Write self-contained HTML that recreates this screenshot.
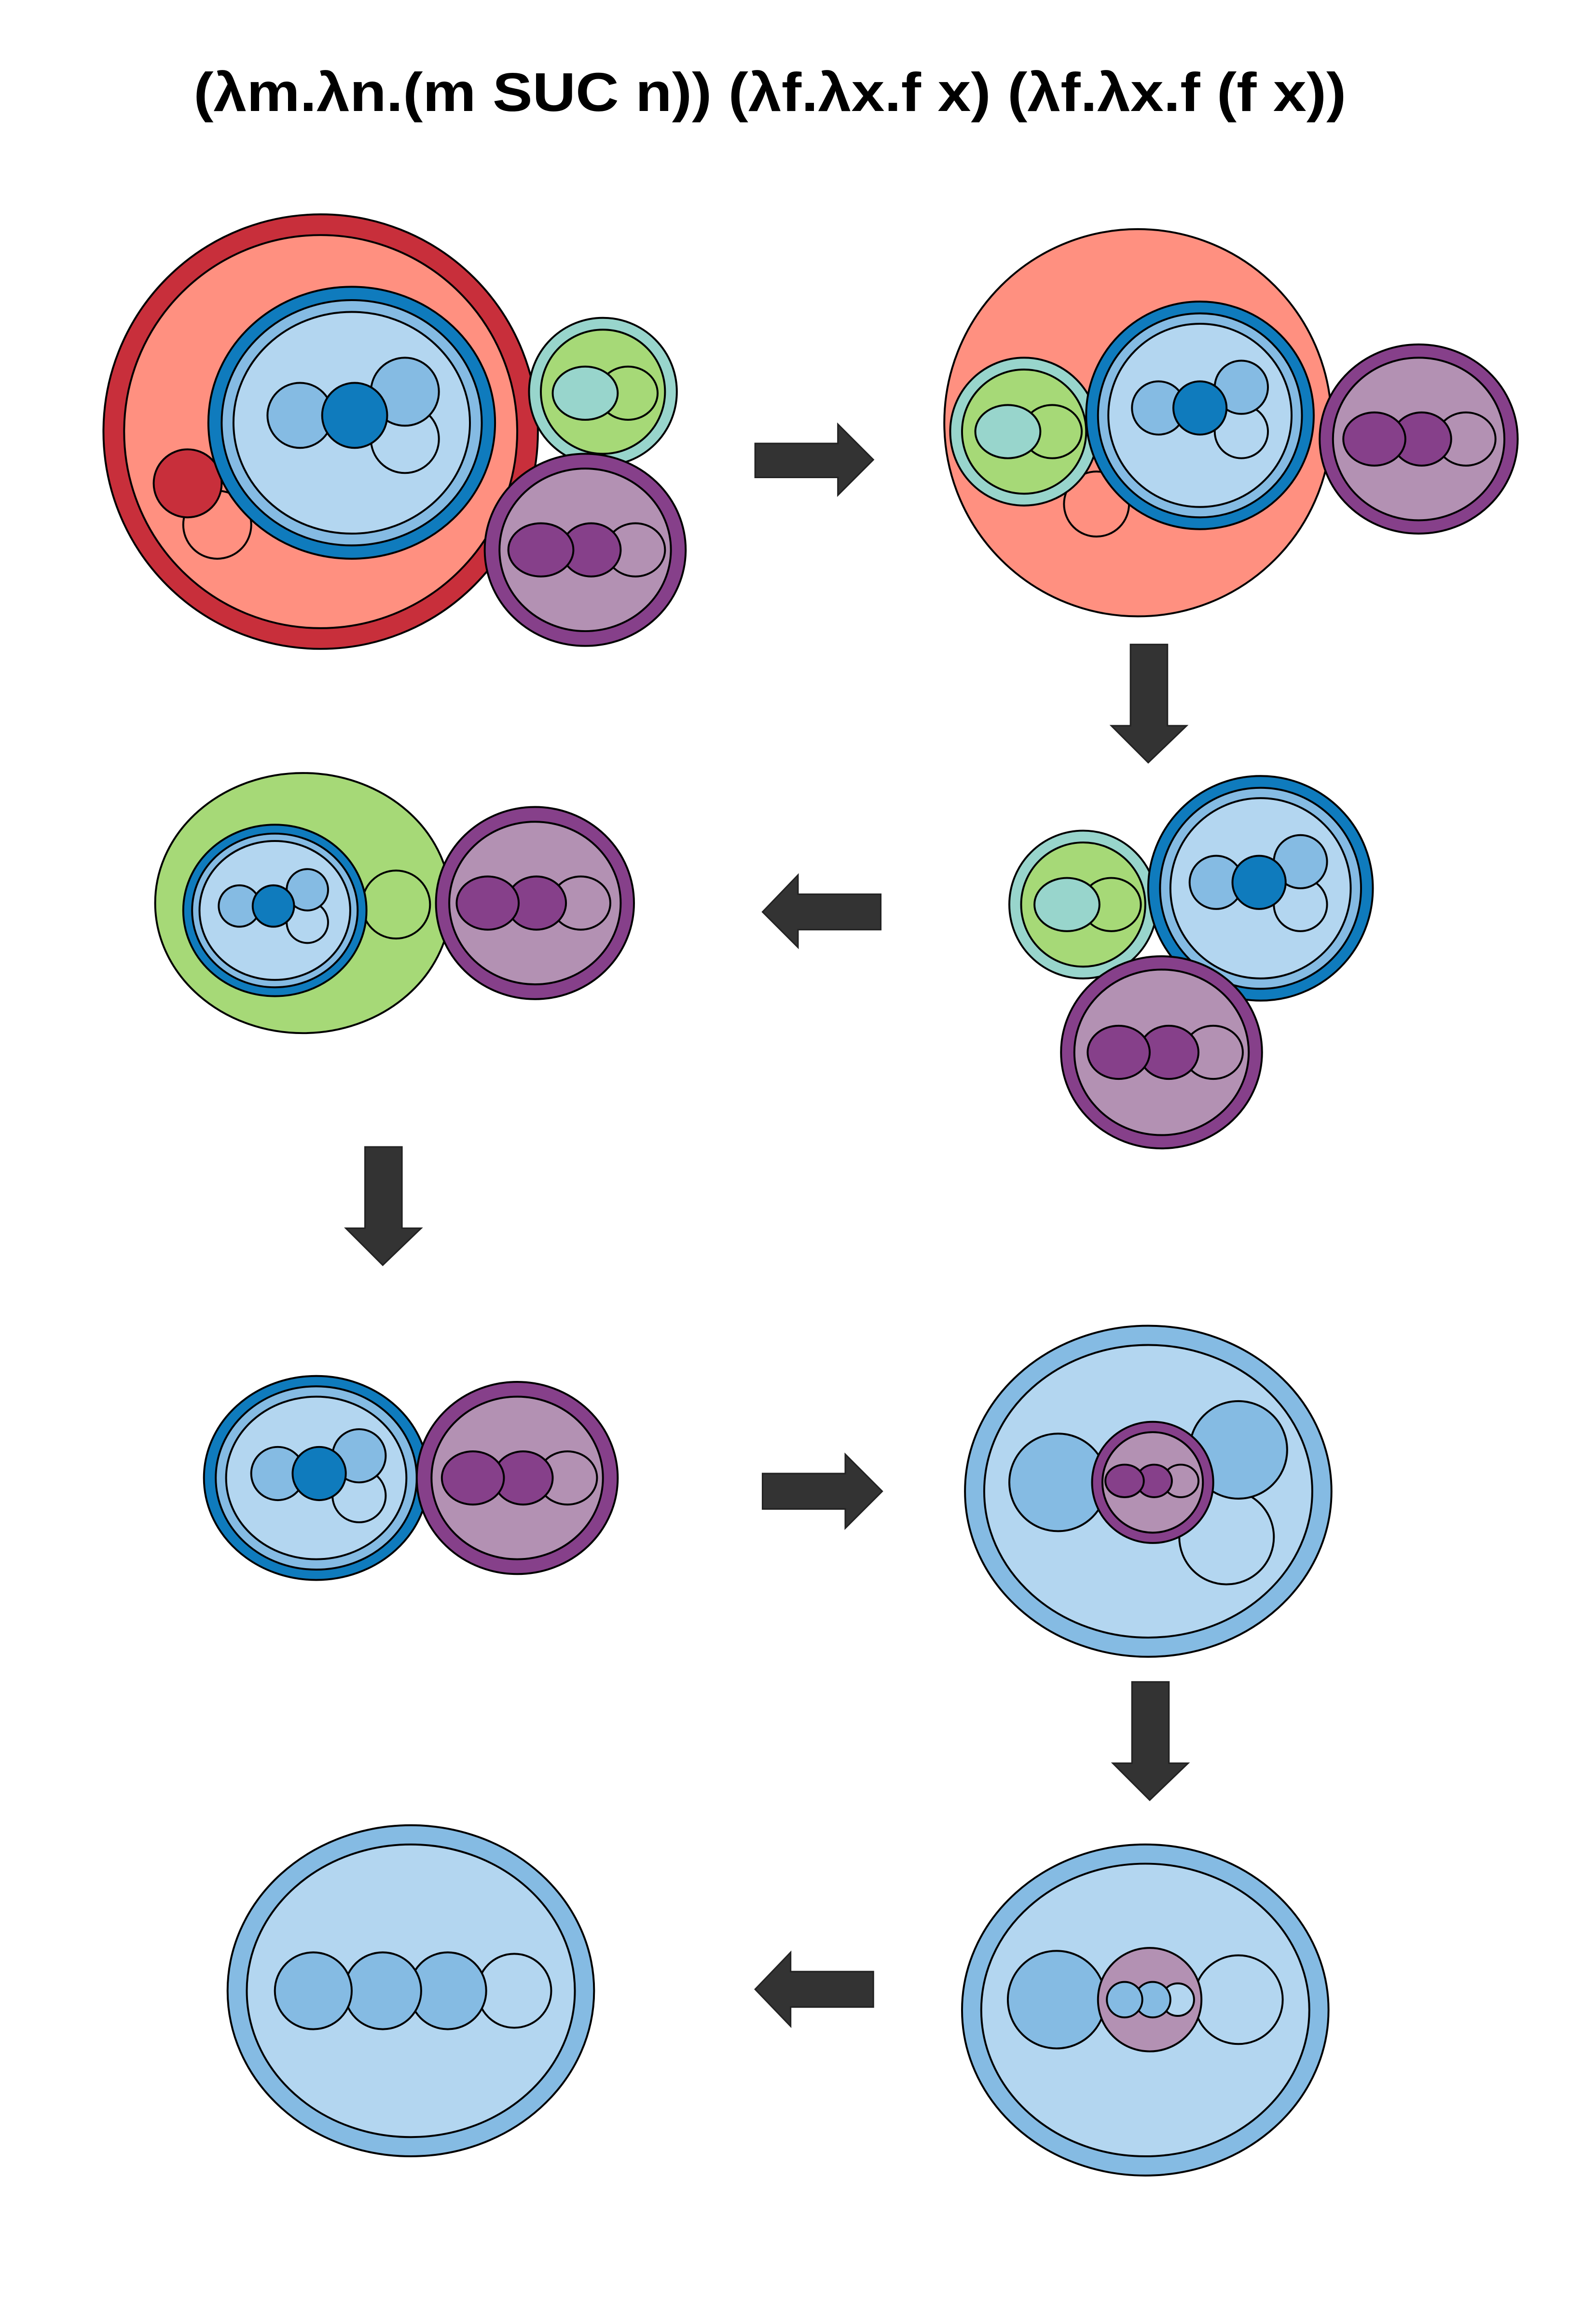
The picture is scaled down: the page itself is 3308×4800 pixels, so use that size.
<!DOCTYPE html>
<html><head><meta charset="utf-8"><style>html,body{margin:0;padding:0;background:#fff}svg{display:block}</style></head>
<body>
<svg width="3308" height="4800" viewBox="0 0 1080 1567" xmlns="http://www.w3.org/2000/svg">
<defs><style>ellipse,circle{stroke:#000;stroke-width:1.3}.arrow{fill:#333;stroke:#222;stroke-width:1}</style></defs>
<rect width="1080" height="1567" fill="#fff"/>
<text x="521" y="75" text-anchor="middle" font-family="Liberation Sans, sans-serif" font-weight="bold" font-size="37" textLength="780" lengthAdjust="spacingAndGlyphs">(λm.λn.(m SUC n)) (λf.λx.f x)  (λf.λx.f (f x))</text>

<!-- Diagram 1 -->
<g>
<circle cx="217" cy="292" r="147" fill="#c82f3b"/>
<circle cx="217" cy="292" r="133" fill="#ff9080"/>
<circle cx="147" cy="355" r="23" fill="#ff9080"/>
<circle cx="127" cy="327" r="23" fill="#c82f3b"/>
<ellipse cx="238" cy="286" rx="97" ry="92" fill="#0f7bbd"/>
<ellipse cx="238" cy="286" rx="88" ry="83" fill="#85bbe3"/>
<ellipse cx="238" cy="286" rx="80" ry="75" fill="#b3d6f0"/>
<circle cx="274" cy="297" r="23" fill="#b3d6f0"/>
<circle cx="274" cy="265" r="23" fill="#85bbe3"/>
<circle cx="203" cy="281" r="22" fill="#85bbe3"/>
<circle cx="240" cy="281" r="22" fill="#0f7bbd"/>
<circle cx="408" cy="265" r="50" fill="#98d5cc"/>
<circle cx="408" cy="265" r="42" fill="#a6d977"/>
<ellipse cx="425" cy="266" rx="20" ry="18" fill="#a6d977"/>
<ellipse cx="396" cy="266" rx="22" ry="18" fill="#98d5cc"/>
<ellipse cx="396" cy="372" rx="68" ry="65" fill="#86408a"/>
<ellipse cx="396" cy="372" rx="58" ry="55" fill="#b391b3"/>
<ellipse cx="430" cy="372" rx="20" ry="18" fill="#b391b3"/>
<ellipse cx="400" cy="372" rx="20" ry="18" fill="#86408a"/>
<ellipse cx="366" cy="372" rx="22" ry="18" fill="#86408a"/>
</g>
<polygon class="arrow" points="511,300 567,300 567,287 591,311 567,335 567,323 511,323"/>

<!-- Diagram 2 -->
<g>
<circle cx="770" cy="286" r="131" fill="#ff9080"/>
<circle cx="742" cy="341" r="22" fill="#ff9080"/>
<circle cx="693" cy="292" r="50" fill="#98d5cc"/>
<circle cx="693" cy="292" r="42" fill="#a6d977"/>
<ellipse cx="712" cy="292" rx="20" ry="18" fill="#a6d977"/>
<ellipse cx="682" cy="292" rx="22" ry="18" fill="#98d5cc"/>
<circle cx="812" cy="281" r="77" fill="#0f7bbd"/>
<circle cx="812" cy="281" r="69" fill="#85bbe3"/>
<circle cx="812" cy="281" r="62" fill="#b3d6f0"/>
<circle cx="840" cy="292" r="18" fill="#b3d6f0"/>
<circle cx="840" cy="262" r="18" fill="#85bbe3"/>
<circle cx="784" cy="276" r="18" fill="#85bbe3"/>
<circle cx="812" cy="276" r="18" fill="#0f7bbd"/>
<ellipse cx="960" cy="297" rx="67" ry="64" fill="#86408a"/>
<ellipse cx="960" cy="297" rx="58" ry="55" fill="#b391b3"/>
<ellipse cx="992" cy="297" rx="20" ry="18" fill="#b391b3"/>
<ellipse cx="962" cy="297" rx="20" ry="18" fill="#86408a"/>
<ellipse cx="930" cy="297" rx="21" ry="18" fill="#86408a"/>
</g>
<polygon class="arrow" points="765,436 790,436 790,491 803,491 777,516 752,491 765,491"/>

<!-- Diagram 3 -->
<g>
<circle cx="733" cy="612" r="50" fill="#98d5cc"/>
<circle cx="733" cy="612" r="42" fill="#a6d977"/>
<ellipse cx="752" cy="612" rx="20" ry="18" fill="#a6d977"/>
<ellipse cx="722" cy="612" rx="22" ry="18" fill="#98d5cc"/>
<circle cx="853" cy="601" r="76" fill="#0f7bbd"/>
<circle cx="853" cy="601" r="68" fill="#85bbe3"/>
<circle cx="853" cy="601" r="61" fill="#b3d6f0"/>
<circle cx="880" cy="612" r="18" fill="#b3d6f0"/>
<circle cx="880" cy="583" r="18" fill="#85bbe3"/>
<circle cx="823" cy="597" r="18" fill="#85bbe3"/>
<circle cx="852" cy="597" r="18" fill="#0f7bbd"/>
<ellipse cx="786" cy="712" rx="68" ry="65" fill="#86408a"/>
<ellipse cx="786" cy="712" rx="59" ry="56" fill="#b391b3"/>
<ellipse cx="821" cy="712" rx="20" ry="18" fill="#b391b3"/>
<ellipse cx="791" cy="712" rx="20" ry="18" fill="#86408a"/>
<ellipse cx="757" cy="712" rx="21" ry="18" fill="#86408a"/>
</g>
<polygon class="arrow" points="596,605 540,605 540,592 516,617 540,641 540,629 596,629"/>

<!-- Diagram 4 -->
<g>
<ellipse cx="205" cy="611" rx="100" ry="88" fill="#a6d977"/>
<circle cx="268" cy="612" r="23" fill="#a6d977"/>
<ellipse cx="186" cy="616" rx="62" ry="58" fill="#0f7bbd"/>
<ellipse cx="186" cy="616" rx="56" ry="52" fill="#85bbe3"/>
<ellipse cx="186" cy="616" rx="51" ry="47" fill="#b3d6f0"/>
<circle cx="208" cy="624" r="14" fill="#b3d6f0"/>
<circle cx="208" cy="602" r="14" fill="#85bbe3"/>
<circle cx="162" cy="613" r="14" fill="#85bbe3"/>
<circle cx="185" cy="613" r="14" fill="#0f7bbd"/>
<ellipse cx="362" cy="611" rx="67" ry="65" fill="#86408a"/>
<ellipse cx="362" cy="611" rx="58" ry="55" fill="#b391b3"/>
<ellipse cx="393" cy="611" rx="20" ry="18" fill="#b391b3"/>
<ellipse cx="363" cy="611" rx="20" ry="18" fill="#86408a"/>
<ellipse cx="330" cy="611" rx="21" ry="18" fill="#86408a"/>
</g>
<polygon class="arrow" points="247,776 272,776 272,831 285,831 259,856 234,831 247,831"/>

<!-- Diagram 5 -->
<g>
<ellipse cx="214" cy="1000" rx="76" ry="69" fill="#0f7bbd"/>
<ellipse cx="214" cy="1000" rx="68" ry="62" fill="#85bbe3"/>
<ellipse cx="214" cy="1000" rx="61" ry="55" fill="#b3d6f0"/>
<circle cx="243" cy="1012" r="18" fill="#b3d6f0"/>
<circle cx="243" cy="985" r="18" fill="#85bbe3"/>
<circle cx="188" cy="997" r="18" fill="#85bbe3"/>
<circle cx="216" cy="997" r="18" fill="#0f7bbd"/>
<ellipse cx="350" cy="1000" rx="68" ry="65" fill="#86408a"/>
<ellipse cx="350" cy="1000" rx="58" ry="55" fill="#b391b3"/>
<ellipse cx="384" cy="1000" rx="20" ry="18" fill="#b391b3"/>
<ellipse cx="354" cy="1000" rx="20" ry="18" fill="#86408a"/>
<ellipse cx="320" cy="1000" rx="21" ry="18" fill="#86408a"/>
</g>
<polygon class="arrow" points="516,997 572,997 572,984 597,1009 572,1034 572,1021 516,1021"/>

<!-- Diagram 6 -->
<g>
<ellipse cx="777" cy="1009" rx="124" ry="112" fill="#85bbe3"/>
<ellipse cx="777" cy="1009" rx="111" ry="99" fill="#b3d6f0"/>
<circle cx="830" cy="1040" r="32" fill="#b3d6f0"/>
<circle cx="838" cy="981" r="33" fill="#85bbe3"/>
<circle cx="716" cy="1003" r="33" fill="#85bbe3"/>
<circle cx="780" cy="1003" r="41" fill="#86408a"/>
<circle cx="780" cy="1003" r="34" fill="#b391b3"/>
<ellipse cx="799" cy="1002" rx="12" ry="11" fill="#b391b3"/>
<ellipse cx="781" cy="1002" rx="12" ry="11" fill="#86408a"/>
<ellipse cx="761" cy="1002" rx="13" ry="11" fill="#86408a"/>
</g>
<polygon class="arrow" points="766,1138 791,1138 791,1193 804,1193 778,1218 753,1193 766,1193"/>

<!-- Diagram 7 -->
<g>
<ellipse cx="775" cy="1360" rx="124" ry="112" fill="#85bbe3"/>
<ellipse cx="775" cy="1360" rx="111" ry="99" fill="#b3d6f0"/>
<circle cx="838" cy="1353" r="30" fill="#b3d6f0"/>
<circle cx="715" cy="1353" r="33" fill="#85bbe3"/>
<circle cx="778" cy="1353" r="35" fill="#b391b3"/>
<circle cx="797" cy="1353" r="11" fill="#b3d6f0"/>
<circle cx="780" cy="1353" r="12" fill="#85bbe3"/>
<circle cx="761" cy="1353" r="12" fill="#85bbe3"/>
</g>
<polygon class="arrow" points="591,1334 535,1334 535,1321 511,1346 535,1371 535,1358 591,1358"/>

<!-- Diagram 8 -->
<g>
<ellipse cx="278" cy="1347" rx="124" ry="112" fill="#85bbe3"/>
<ellipse cx="278" cy="1347" rx="111" ry="99" fill="#b3d6f0"/>
<circle cx="348" cy="1347" r="25" fill="#b3d6f0"/>
<circle cx="303" cy="1347" r="26" fill="#85bbe3"/>
<circle cx="259" cy="1347" r="26" fill="#85bbe3"/>
<circle cx="212" cy="1347" r="26" fill="#85bbe3"/>
</g>
</svg>
</body></html>
